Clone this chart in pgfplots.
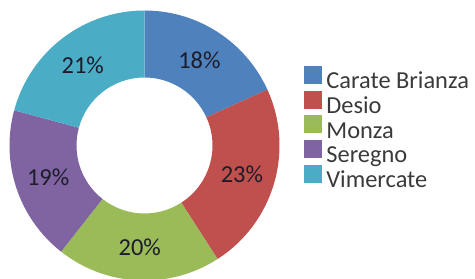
\documentclass[border=0pt]{standalone}
\usepackage{pgfplots}
\pgfplotsset{compat=1.18}
\usepackage{pgfplotstable}
\usepackage{fontspec}
\setmainfont{Carlito}

\definecolor{c0}{HTML}{4F81BD}
\definecolor{c1}{HTML}{C0504D}
\definecolor{c2}{HTML}{9BBB59}
\definecolor{c3}{HTML}{8064A2}
\definecolor{c4}{HTML}{4BACC6}
\definecolor{labcol}{HTML}{1C1C2A}
\definecolor{legcol}{HTML}{3A3A3A}

\pgfplotstableread[col sep=comma]{
name,value
Carate Brianza,18.2
Desio,22.7
Monza,19.7
Seregno,18.6
Vimercate,20.8
}\donut

% cumulative angles (clockwise from the top)
\def\curangle{90}
\pgfplotsforeachungrouped \i in {0,...,4}{%
  \pgfplotstablegetelem{\i}{value}\of\donut
  \let\myval\pgfplotsretval
  \pgfmathsetmacro\myend{\curangle-3.6*\myval}%
  \pgfmathsetmacro\mymid{(\curangle+\myend)/2}%
  \pgfmathtruncatemacro\mylab{round(\myval)}%
  \expandafter\xdef\csname sa\i\endcsname{\curangle}%
  \expandafter\xdef\csname ea\i\endcsname{\myend}%
  \expandafter\xdef\csname ma\i\endcsname{\mymid}%
  \expandafter\xdef\csname lb\i\endcsname{\mylab}%
  \xdef\curangle{\myend}%
}

\newcommand\cx{144.5}
\newcommand\cy{133.5}

\begin{document}
\begin{tikzpicture}
\begin{axis}[
  name=ax, hide axis, scale only axis,
  width=475bp, height=279bp,
  xmin=0, xmax=475, ymin=0, ymax=279,
  clip=true,
  legend cell align=left,
  legend style={at={(axis cs:304,213)}, anchor=north west,
    draw=none, fill=none, inner sep=0pt, outer sep=0pt,
    row sep=-4bp, column sep=5bp,
    font=\fontsize{24.5}{28}\selectfont, text=legcol,
    nodes={inner sep=0pt, text height=17bp, text depth=6bp}},
]
\pgfplotsinvokeforeach{0,...,4}{
  \fill[c#1, shift={(axis cs:\cx,\cy)}]
    (\csname sa#1\endcsname:135bp)
    arc[start angle=\csname sa#1\endcsname, end angle=\csname ea#1\endcsname, radius=135bp]
    -- (\csname ea#1\endcsname:68bp)
    arc[start angle=\csname ea#1\endcsname, end angle=\csname sa#1\endcsname, radius=68bp]
    -- cycle;
}
\pgfplotsinvokeforeach{0,...,4}{
  \node[shift={(axis cs:\cx,\cy)}, font=\fontsize{24.5}{28}\selectfont, text=labcol, inner sep=0pt]
    at (\csname ma#1\endcsname:101.5bp) {\csname lb#1\endcsname\%};
}
\addlegendimage{legend image code/.code={\fill[c0] (0bp,0bp) rectangle (17bp,17bp);}}
\addlegendentry{Carate Brianza}
\addlegendimage{legend image code/.code={\fill[c1] (0bp,0bp) rectangle (17bp,17bp);}}
\addlegendentry{Desio}
\addlegendimage{legend image code/.code={\fill[c2] (0bp,0bp) rectangle (17bp,17bp);}}
\addlegendentry{Monza}
\addlegendimage{legend image code/.code={\fill[c3] (0bp,0bp) rectangle (17bp,17bp);}}
\addlegendentry{Seregno}
\addlegendimage{legend image code/.code={\fill[c4] (0bp,0bp) rectangle (17bp,17bp);}}
\addlegendentry{Vimercate}
\end{axis}
\pgfresetboundingbox
\path (ax.south west) rectangle (ax.north east);
\end{tikzpicture}
\end{document}
